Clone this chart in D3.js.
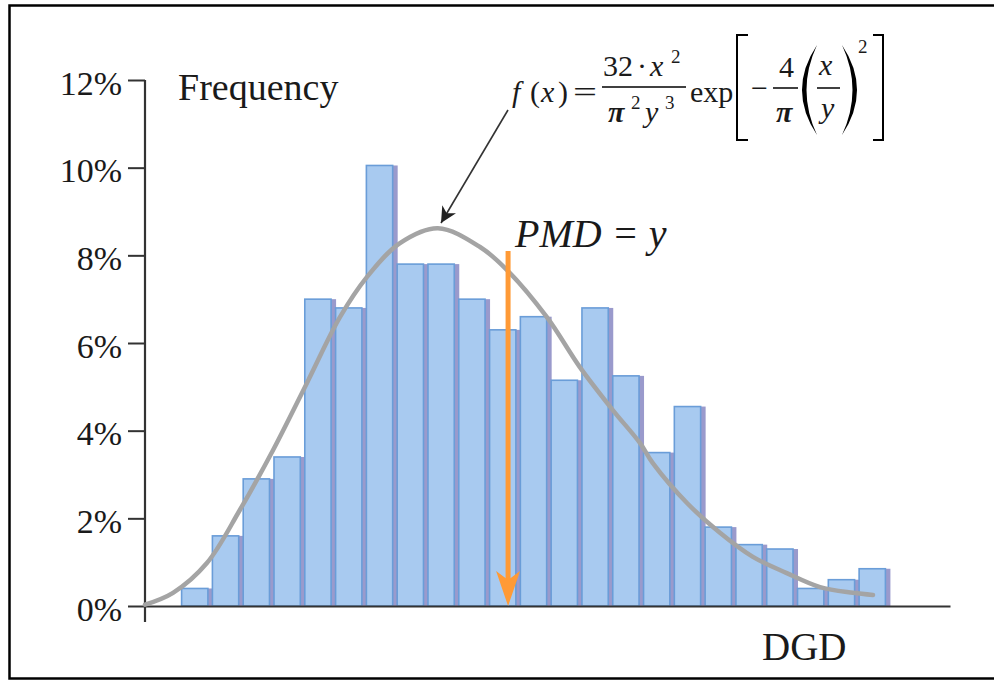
<!DOCTYPE html>
<html>
<head>
<meta charset="utf-8">
<script src="https://cdn.jsdelivr.net/npm/d3@7"></script>
<style>
  body { margin: 0; background: #fff; }
  svg text { font-family: "Liberation Serif", "Times New Roman", serif; fill: #1a1a1a; }
  .it { font-style: italic; }
</style>
</head>
<body>
<div id="chart"></div>
<script>
// Histogram frequencies (%), one per DGD bin, left to right
var freq = [0.4, 1.6, 2.9, 3.4, 7.0, 6.8, 10.05, 7.8, 7.8, 7.0, 6.3, 6.6,
            5.15, 6.8, 5.25, 3.5, 4.55, 1.8, 1.4, 1.3, 0.4, 0.6, 0.85];
// DGD of the first bin edge and bin width (arbitrary DGD units)
var binStart = 1.14;
var binWidth = 1;

// Fitted Maxwellian curve
var curveX = [0, 0.91, 2.01, 3.08, 4.16, 5.26, 6.33, 7.21, 8.28, 9.51, 10.88,
              11.75, 13.05, 14.12, 15.19, 16.07, 16.49, 17.6, 18.67, 19.74,
              20.84, 21.92, 22.99, 23.64];
var curveY = [0.03, 0.3, 0.98, 2.19, 3.56, 5.09, 6.59, 7.51, 8.28, 8.62, 8.19,
              7.67, 6.59, 5.45, 4.47, 3.72, 3.26, 2.35, 1.67, 1.12,
              0.75, 0.43, 0.3, 0.25];

// Mean DGD (PMD) marker
var pmd = 11.79;
var pmdTop = 8.1;

var yTicks = [0, 2, 4, 6, 8, 10, 12];

var width = 994;
var height = 682;

var svg = d3.select("#chart")
  .append("svg")
  .attr("width", width)
  .attr("height", height);

// frame
svg.append("rect")
  .attr("x", 9.5)
  .attr("y", 5.5)
  .attr("width", 1000)
  .attr("height", 673)
  .attr("fill", "none")
  .attr("stroke", "#000")
  .attr("stroke-width", 2.5);

var x = d3.scaleLinear().domain([0, 26.14]).range([145, 950]);
var y = d3.scaleLinear().domain([0, 12]).range([606, 80]);

// bars: purple shadow layer first, then the blue bars
var bins = freq.map(function(v, i) {
  return { x0: binStart + i * binWidth, x1: binStart + (i + 1) * binWidth, v: v };
});

svg.append("g")
  .selectAll("rect")
  .data(bins)
  .enter()
  .append("rect")
  .attr("x", function(d) { return x(d.x0) + 4; })
  .attr("y", function(d) { return y(d.v); })
  .attr("width", function(d) { return x(d.x1) - x(d.x0) - 2; })
  .attr("height", function(d) { return y(0) - y(d.v); })
  .attr("fill", "#9a9acc");

svg.append("g")
  .selectAll("rect")
  .data(bins)
  .enter()
  .append("rect")
  .attr("x", function(d) { return x(d.x0) + 1.5; })
  .attr("y", function(d) { return y(d.v); })
  .attr("width", function(d) { return x(d.x1) - x(d.x0) - 4.5; })
  .attr("height", function(d) { return y(0) - y(d.v); })
  .attr("fill", "#a8caf0")
  .attr("stroke", "#6a9dd8")
  .attr("stroke-width", 1.6);

// axes
var yAxis = d3.axisLeft(y)
  .tickValues(yTicks)
  .tickSize(17)
  .tickPadding(6)
  .tickSizeOuter(0)
  .tickFormat(function(d) { return d + "%"; });

var gy = svg.append("g")
  .attr("transform", "translate(" + x(0) + ",0)")
  .call(yAxis);
gy.select(".domain").remove();
gy.selectAll(".tick line").attr("stroke", "#333").attr("stroke-width", 2);
gy.selectAll(".tick text")
  .attr("font-size", 34)
  .attr("dy", "0.42em")
  .style("font-family", "'Liberation Serif', serif")
  .attr("fill", "#2a2a2a");
gy.append("line")
  .attr("x1", 0).attr("x2", 0)
  .attr("y1", y(12)).attr("y2", y(0) + 16)
  .attr("stroke", "#333")
  .attr("stroke-width", 2.2);

var xAxis = d3.axisBottom(x).tickValues([]).tickSizeOuter(0);
var gx = svg.append("g")
  .attr("transform", "translate(0," + y(0) + ")")
  .call(xAxis);
gx.select(".domain").attr("stroke", "#333").attr("stroke-width", 2.2);

// fitted curve
var line = d3.line()
  .x(function(d) { return x(d[0]); })
  .y(function(d) { return y(d[1]); })
  .curve(d3.curveCatmullRom);

svg.append("path")
  .datum(curveX.map(function(v, i) { return [v, curveY[i]]; }))
  .attr("d", line)
  .attr("fill", "none")
  .attr("stroke", "#a4a4a4")
  .attr("stroke-width", 4.5)
  .attr("stroke-linecap", "round");

// PMD arrow (orange)
var px = x(pmd);
svg.append("line")
  .attr("x1", px).attr("x2", px)
  .attr("y1", y(pmdTop)).attr("y2", y(0) - 26)
  .attr("stroke", "#ff9a36")
  .attr("stroke-width", 5);
svg.append("path")
  .attr("d", "M" + px + "," + y(0) +
    " L" + (px - 12) + "," + (y(0) - 35) +
    " L" + px + "," + (y(0) - 26) +
    " L" + (px + 12) + "," + (y(0) - 35) + " Z")
  .attr("fill", "#ff9a36");

// labels
svg.append("text")
  .attr("x", 178).attr("y", 100)
  .attr("font-size", 38)
  .text("Frequency");

svg.append("text")
  .attr("x", 762).attr("y", 660)
  .attr("font-size", 39)
  .text("DGD");

svg.append("text")
  .attr("class", "it")
  .attr("x", 515).attr("y", 247)
  .attr("font-size", 40)
  .attr("fill", "#000")
  .text("PMD = y");

// pointer from formula to curve
svg.append("defs").append("marker")
  .attr("id", "head")
  .attr("viewBox", "0 0 10 10")
  .attr("refX", 10).attr("refY", 5)
  .attr("markerWidth", 16).attr("markerHeight", 16)
  .attr("markerUnits", "userSpaceOnUse")
  .attr("orient", "auto")
  .append("path")
  .attr("d", "M0,0 L10,5 L0,10 L3,5 Z")
  .attr("fill", "#222");

svg.append("line")
  .attr("x1", 508).attr("y1", 110)
  .attr("x2", 441).attr("y2", 223)
  .attr("stroke", "#333")
  .attr("stroke-width", 1.6)
  .attr("marker-end", "url(#head)");

// formula f(x) = 32·x² / (π² y³) exp[-4/π (x/y)²]
var fm = svg.append("g").attr("font-size", 30).attr("fill", "#000");
function ft(tx, ty, s, italic, size) {
  var t = fm.append("text").attr("x", tx).attr("y", ty).text(s);
  if (italic) t.attr("class", "it");
  if (size) t.attr("font-size", size);
  return t;
}
function bar(x1, x2, yy) {
  fm.append("line").attr("x1", x1).attr("x2", x2).attr("y1", yy).attr("y2", yy)
    .attr("stroke", "#000").attr("stroke-width", 1.5);
}
ft(512, 102, "f", true);
ft(530, 102, "(");
ft(541, 102, "x", true);
ft(558, 102, ")");
ft(573, 102, "=").attr("textLength", 24).attr("lengthAdjust", "spacingAndGlyphs");
ft(603, 76, "32");
ft(637, 76, "·");
ft(650, 76, "x", true);
ft(671, 63, "2", false, 19);
bar(602, 686, 87);
ft(608, 122, "π", true).attr("font-weight", "bold");
ft(631, 109, "2", false, 19);
ft(645, 122, "y", true);
ft(665, 109, "3", false, 19);
ft(690, 102, "exp");
fm.append("path").attr("d", "M748,35 H737 V140 H748")
  .attr("fill", "none").attr("stroke", "#000").attr("stroke-width", 2);
ft(751, 98, "−");
ft(779, 77, "4");
bar(773, 798, 88);
ft(776, 122, "π", true).attr("font-weight", "bold");
fm.append("path").attr("d", "M817,45 Q787,90 817,135 Q796,90 817,45 Z").attr("fill", "#000");
ft(819, 75, "x", true);
bar(817, 840, 88);
ft(821, 118, "y", true);
fm.append("path").attr("d", "M842,45 Q872,90 842,135 Q863,90 842,45 Z").attr("fill", "#000");
ft(858, 53, "2", false, 19);
fm.append("path").attr("d", "M873,35 H883 V140 H873")
  .attr("fill", "none").attr("stroke", "#000").attr("stroke-width", 2);
</script>
</body>
</html>
